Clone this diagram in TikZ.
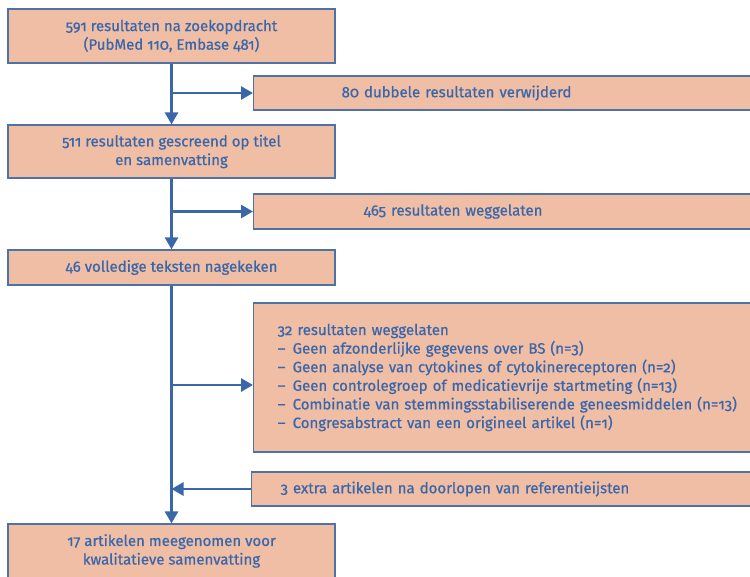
\documentclass[tikz,border=0pt]{standalone}
\usepackage{fontspec}
\setmainfont{Fira Sans}[Numbers=OldStyle, FakeBold=0.7]
\usepackage{xcolor}
\usetikzlibrary{arrows.meta, positioning}

\definecolor{boxfill}{HTML}{EFBEA5}
\definecolor{boxline}{HTML}{4E71A6}
\definecolor{flowblue}{HTML}{3A66AA}
\newcommand{\reason}[1]{\makebox[15pt][l]{--}#1}

\begin{document}
\begin{tikzpicture}[x=1pt, y=-1pt,
    stage/.style={draw=boxline, line width=1.3pt, fill=boxfill, text=flowblue, font=\fontsize{15}{18.6}\selectfont, minimum width=327pt, align=center},
    side/.style={stage, anchor=west, align=left, text width=520pt},
    flow/.style={draw=flowblue, line width=2.8pt, -{Triangle[length=12pt, width=13pt]}}]
  \useasboundingbox (0,0) rectangle (750,576);

  \node[stage, minimum height=54pt] (found) at (171.5,36) {591 resultaten na zoekopdracht\\(PubMed 110, Embase 481)};
  \node[side, minimum height=34pt, inner xsep=88pt] (dupes) at (253,93) {80 dubbele resultaten verwijderd};
  \node[stage, minimum height=53pt] (screened) at (171.5,151.5) {511 resultaten gescreend op titel\\en samenvatting};
  \node[side, minimum height=35pt, inner xsep=110pt] (excluded) at (253,211.5) {465 resultaten weggelaten};
  \node[stage, minimum height=35pt] (fulltext) at (171.5,267.5) {46 volledige teksten nagekeken};
  \node[side, minimum height=149pt, inner xsep=24pt] (reasons) at (253,377.5) {32 resultaten weggelaten\\
    \reason{Geen afzonderlijke gegevens over BS (n=3)}\\
    \reason{Geen analyse van cytokines of cytokinereceptoren (n=2)}\\
    \reason{Geen controlegroep of medicatievrije startmeting (n=13)}\\
    \reason{Combinatie van stemmingsstabiliserende geneesmiddelen (n=13)}\\
    \reason{Congresabstract van een origineel artikel (n=1)}};
  \node[side, minimum height=34pt, inner xsep=29pt] (extra) at (251,489) {3 extra artikelen na doorlopen van referentieijsten};
  \node[stage, minimum height=54pt] (included) at (171.5,551) {17 artikelen meegenomen voor\\kwalitatieve samenvatting};
  \coordinate (reasonsin) at ([yshift=-7.5pt]reasons.west);

  \draw[flow] (found) -- (screened);
  \draw[flow] (found.south |- dupes.west) -- (dupes.west);
  \draw[flow] (screened) -- (fulltext);
  \draw[flow] (screened.south |- excluded.west) -- (excluded.west);
  \draw[flow] (fulltext) -- (included);
  \draw[flow] (fulltext.south |- reasonsin) -- (reasonsin);
  \draw[flow] (extra.west) -- (fulltext.south |- extra.west);
\end{tikzpicture}
\end{document}
